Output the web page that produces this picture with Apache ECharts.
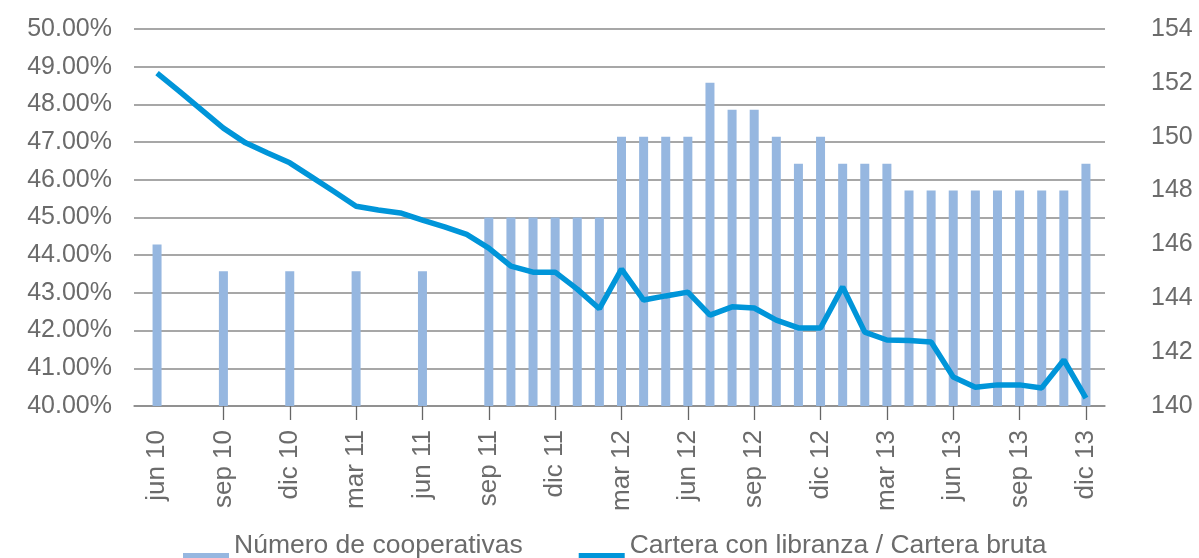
<!DOCTYPE html>
<html>
<head>
<meta charset="utf-8">
<script src="https://cdn.jsdelivr.net/npm/echarts@6/dist/echarts.min.js"></script>
<style>
  html, body { margin: 0; padding: 0; background: #fff; }
  #chart { width: 1199px; height: 558px; }
</style>
</head>
<body>
<div id="chart"></div>
<script>
// meses (eje de categorías)
const months = ['jun 10','jul 10','ago 10','sep 10','oct 10','nov 10','dic 10','ene 11','feb 11','mar 11','abr 11','may 11',
  'jun 11','jul 11','ago 11','sep 11','oct 11','nov 11','dic 11','ene 12','feb 12','mar 12','abr 12','may 12',
  'jun 12','jul 12','ago 12','sep 12','oct 12','nov 12','dic 12','ene 13','feb 13','mar 13','abr 13','may 13',
  'jun 13','jul 13','ago 13','sep 13','oct 13','nov 13','dic 13'];

// Número de cooperativas (eje derecho), trimestral hasta jun 11
const cooperativas = [146, null, null, 145, null, null, 145, null, null, 145, null, null,
  145, null, null, 147, 147, 147, 147, 147, 147, 150, 150, 150,
  150, 152, 151, 151, 150, 149, 150, 149, 149, 149, 148, 148,
  148, 148, 148, 148, 148, 148, 149];

// Cartera con libranza / Cartera bruta (%)
const cartera = [48.83, 48.35, 47.86, 47.37, 46.98, 46.71, 46.45, 46.07, 45.69, 45.30, 45.20, 45.12,
  44.93, 44.75, 44.55, 44.19, 43.71, 43.55, 43.55, 43.10, 42.58, 43.63, 42.81, 42.92,
  43.02, 42.41, 42.63, 42.60, 42.28, 42.07, 42.07, 43.16, 41.96, 41.75, 41.74, 41.70,
  40.77, 40.50, 40.56, 40.56, 40.48, 41.22, 40.21];

// ejes
const leftTicks = { min: 40, max: 50, interval: 1 };
const rightTicks = { min: 140, max: 154, interval: 2 };

const textColor = '#6b6b6b';
const gridColor = '#8a8a8a';
const font = "'Liberation Sans', Arial, sans-serif";

const chart = echarts.init(document.getElementById('chart'));
chart.setOption({
  animation: false,
  textStyle: { fontFamily: font },
  grid: [
    { left: 146, right: 102, top: 29, bottom: 152 },
    // rejilla de fondo, un poco más ancha que la zona de datos
    { left: 134, right: 94, top: 29, bottom: 152 }
  ],
  legend: {
    left: 183,
    top: 532,
    padding: 0,
    itemGap: 56,
    itemWidth: 46,
    itemHeight: 14,
    // segunda línea vacía: el texto queda por encima del icono, como en el original
    formatter: (name) => name + '\n ',
    textStyle: { fontSize: 26.5, lineHeight: 28, color: textColor, fontFamily: font },
    data: [
      { name: 'Número de cooperativas', icon: 'rect' },
      { name: 'Cartera con libranza / Cartera bruta', icon: 'rect' }
    ]
  },
  xAxis: [
    {
      type: 'category',
      gridIndex: 0,
      data: months,
      boundaryGap: true,
      axisLine: { show: false },
      axisTick: {
        show: true,
        alignWithLabel: true,
        length: 14,
        interval: (i) => i % 3 === 0 && i > 0,
        lineStyle: { color: '#666', width: 1.3 }
      },
      axisLabel: {
        interval: 2,
        rotate: 90,
        margin: 24,
        fontSize: 26,
        color: textColor,
        fontFamily: font
      }
    },
    {
      type: 'value',
      gridIndex: 1,
      min: 0,
      max: 1,
      axisLine: { show: true, lineStyle: { color: gridColor, width: 1.5 } },
      axisTick: { show: false },
      axisLabel: { show: false },
      splitLine: { show: false }
    }
  ],
  yAxis: [
    {
      type: 'value',
      gridIndex: 0,
      position: 'left',
      min: leftTicks.min,
      max: leftTicks.max,
      interval: leftTicks.interval,
      axisLine: { show: false },
      axisTick: { show: false },
      splitLine: { show: false },
      axisLabel: {
        margin: 34,
        fontSize: 25,
        color: textColor,
        fontFamily: font,
        formatter: (v) => v.toFixed(2) + '%'
      }
    },
    {
      type: 'value',
      gridIndex: 0,
      position: 'right',
      min: rightTicks.min,
      max: rightTicks.max,
      interval: rightTicks.interval,
      axisLine: { show: false },
      axisTick: { show: false },
      splitLine: { show: false },
      axisLabel: { margin: 54, fontSize: 25, color: textColor, fontFamily: font }
    },
    {
      type: 'value',
      gridIndex: 1,
      min: leftTicks.min,
      max: leftTicks.max,
      interval: leftTicks.interval,
      axisLine: { show: false },
      axisTick: { show: false },
      axisLabel: { show: false },
      splitLine: { show: true, lineStyle: { color: gridColor, width: 1.5 } }
    }
  ],
  series: [
    {
      name: 'Número de cooperativas',
      type: 'bar',
      xAxisIndex: 0,
      yAxisIndex: 1,
      data: cooperativas,
      barWidth: 9,
      itemStyle: { color: '#96b7e0' },
      z: 2
    },
    {
      name: 'Cartera con libranza / Cartera bruta',
      type: 'line',
      xAxisIndex: 0,
      yAxisIndex: 0,
      data: cartera,
      symbol: 'none',
      lineStyle: { width: 5.5, color: '#0095d9' },
      itemStyle: { color: '#0095d9' },
      z: 3
    }
  ]
});
</script>
</body>
</html>
